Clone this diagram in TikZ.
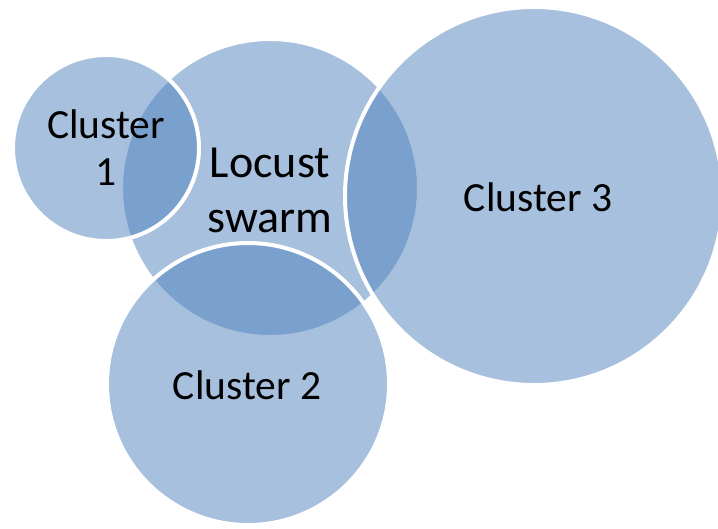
\documentclass[tikz,border=0pt]{standalone}
\usepackage{fontspec}
\setmainfont{Carlito}
\begin{document}
\begin{tikzpicture}[x=1pt,y=-1pt,
  bubble/.style={fill={rgb,255:red,79;green,129;blue,189},fill opacity=0.5,draw=white,line width=4pt},
  lab/.style={text=black,align=center,inner sep=0pt}]
\clip (0,0) rectangle (718,528);
\useasboundingbox (0,0) rectangle (718,528);
\path[bubble] (270,188) circle[radius=149];
\path[bubble] (106,148) circle[radius=93];
\path[bubble] (534,196) circle[radius=189];
\path[bubble] (248,384) circle[radius=141];
\node[lab,font=\fontsize{41.5}{47}\selectfont] (c1) at (106,148) {Cluster\\1};
\node[lab,font=\fontsize{46}{55}\selectfont] (ls) at (270,190) {Locust\\swarm};
\node[lab,font=\fontsize{41.5}{47}\selectfont] (c3) at (538,197) {Cluster 3};
\node[lab,font=\fontsize{41.5}{47}\selectfont] (c2) at (247,385) {Cluster 2};
\end{tikzpicture}
\end{document}
